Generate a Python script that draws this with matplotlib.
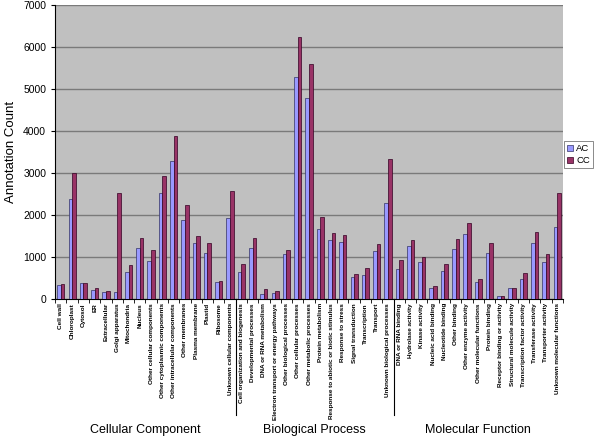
import numpy as np
import matplotlib
matplotlib.use("Agg")
import matplotlib.pyplot as plt
import matplotlib.transforms as mtransforms

plt.rcParams["font.family"] = ["Liberation Sans", "DejaVu Sans"]

cc_cats = ["Cell wall", "Chloroplast", "Cytosol", "ER", "Extracellular",
           "Golgi apparatus", "Mitochondria", "Nucleus",
           "Other cellular components", "Other cytoplasmic components",
           "Other intracellular components", "Other membranes",
           "Plasma membrane", "Plastid", "Ribosome",
           "Unknown cellular components"]
bp_cats = ["Cell organization and biogenesis", "Developmental processes",
           "DNA or RNA metabolism", "Electron transport or energy pathways",
           "Other biological processes", "Other cellular processes",
           "Other metabolic processes", "Protein metabolism",
           "Response to abiotic or biotic stimulus", "Response to stress",
           "Signal transduction", "Transcription", "Transport",
           "Unknown biological processes"]
mf_cats = ["DNA or RNA binding", "Hydrolase activity", "Kinase activity",
           "Nucleic acid binding", "Nucleotide binding", "Other binding",
           "Other enzyme activity", "Other molecular functions",
           "Protein binding", "Receptor binding or activity",
           "Structural molecule activity", "Transcription factor activity",
           "Transferase activity", "Transporter activity",
           "Unknown molecular functions"]

ac_cc = [330, 2380, 370, 220, 170, 170, 650, 1200, 900, 2530, 3290, 1870,
         1320, 1100, 400, 1920]
cc_cc = [350, 3000, 370, 260, 190, 2520, 800, 1460, 1170, 2920, 3880, 2230,
         1500, 1320, 420, 2580]
ac_bp = [650, 1200, 120, 150, 1080, 5280, 4780, 1670, 1400, 1350, 520, 570,
         1130, 2280]
cc_bp = [830, 1460, 230, 190, 1170, 6230, 5580, 1950, 1570, 1520, 600, 740,
         1300, 3330]
ac_mf = [700, 1250, 870, 270, 670, 1190, 1550, 400, 1100, 80, 250, 480,
         1340, 880, 1700]
cc_mf = [920, 1410, 1000, 300, 820, 1430, 1800, 470, 1330, 80, 270, 620,
         1600, 1060, 2520]

groups = ["Cellular Component", "Biological Process", "Molecular Function"]

cats = cc_cats + bp_cats + mf_cats
ac = ac_cc + ac_bp + ac_mf
cc = cc_cc + cc_bp + cc_mf
n = len(cats)
x = np.arange(n)

fig = plt.figure(figsize=(6, 4.37), dpi=100)
ax = fig.add_axes([0.092, 0.316, 0.846, 0.673])
ax.set_facecolor("#c0c0c0")

w = 0.32
ax.bar(x - w / 2, ac, w, color="#9999ff", edgecolor="#333366", linewidth=0.5,
       label="AC", zorder=3)
ax.bar(x + w / 2, cc, w, color="#993366", edgecolor="#330022", linewidth=0.5,
       label="CC", zorder=3)

ax.set_xlim(-0.5, n - 0.5)
ax.set_ylim(0, 7000)
ax.set_yticks(np.arange(0, 7001, 1000))
ax.yaxis.grid(True, color="#7a7a7a", linewidth=1, zorder=0)
ax.tick_params(axis="y", labelsize=7.5, length=3)
ax.set_ylabel("Annotation Count", fontsize=9.5)

ax.set_xticks(x)
ax.set_xticklabels(cats, rotation=90, fontsize=4.6, fontweight="bold")
ax.tick_params(axis="x", which="major", length=0, pad=3)
ax.set_xticks(np.arange(-0.5, n, 1), minor=True)
ax.tick_params(axis="x", which="minor", length=3)

for s in ["top", "right"]:
    ax.spines[s].set_visible(False)

trans = mtransforms.blended_transform_factory(ax.transData, ax.transAxes)
bounds = [0, len(cc_cats), len(cc_cats) + len(bp_cats), n]
for b in bounds[1:-1]:
    ax.plot([b - 0.5, b - 0.5], [0, -0.395], color="black", linewidth=0.8,
            transform=trans, clip_on=False)
for i, g in enumerate(groups):
    mid = (bounds[i] + bounds[i + 1]) / 2 - 0.5
    ax.text(mid, -0.445, g, transform=trans, ha="center", va="center",
            fontsize=9)

leg = ax.legend(loc="center left", bbox_to_anchor=(1.002, 0.49),
                fontsize=6.8, frameon=True, fancybox=False,
                handlelength=0.7, handleheight=0.7, handletextpad=0.3,
                borderpad=0.3, labelspacing=0.35, borderaxespad=0)
leg.get_frame().set_edgecolor("#555555")
leg.get_frame().set_linewidth(0.6)

fig.savefig("out.png", dpi=100)
